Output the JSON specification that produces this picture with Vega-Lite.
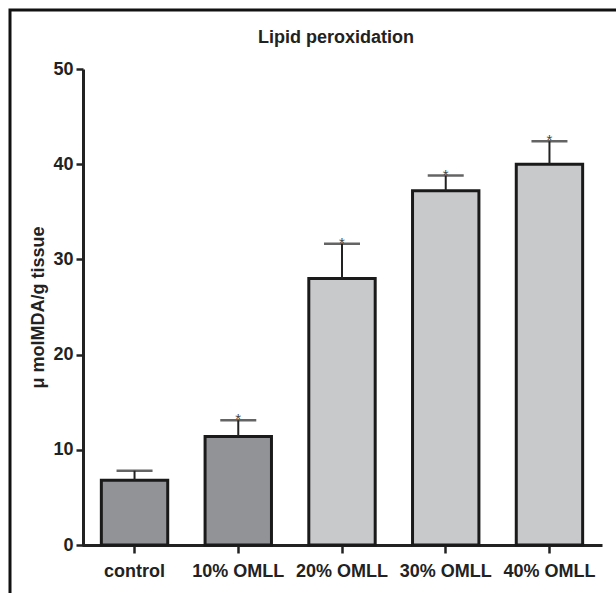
{
  "$schema": "https://vega.github.io/schema/vega-lite/v6.json",
  "width": 620,
  "height": 600,
  "autosize": {"type": "none"},
  "padding": {"left": 10, "top": 10, "right": -14, "bottom": -17},
  "background": "white",
  "config": {
    "view": {"stroke": "#111", "strokeWidth": 3, "fill": "white"},
    "font": "Liberation Sans"
  },
  "title": {
    "text": "Lipid peroxidation",
    "fontSize": 18,
    "fontWeight": "bold",
    "font": "Liberation Sans",
    "color": "#222",
    "anchor": "middle",
    "baseline": "alphabetic",
    "offset": -51,
    "dx": 16
  },
  "data": {
    "values": [
      {"group": "control", "value": 6.8, "upper": 7.8, "sig": ""},
      {"group": "10% OMLL", "value": 11.4, "upper": 13.1, "sig": "*"},
      {"group": "20% OMLL", "value": 28.0, "upper": 31.65, "sig": "*"},
      {"group": "30% OMLL", "value": 37.2, "upper": 38.8, "sig": "*"},
      {"group": "40% OMLL", "value": 40.0, "upper": 42.4, "sig": "*"}
    ]
  },
  "encoding": {
    "x": {
      "field": "group",
      "type": "nominal",
      "sort": null,
      "scale": {"range": [72, 592], "paddingInner": 0.36, "paddingOuter": 0.1865},
      "axis": {
        "orient": "bottom",
        "offset": -65,
        "title": null,
        "labelAngle": 0,
        "labelFont": "Liberation Sans",
        "labelFontSize": 18,
        "labelFontWeight": "bold",
        "labelColor": "#222",
        "labelPadding": 9,
        "labelOverlap": false,
        "labelBound": false,
        "tickSize": 8,
        "tickWidth": 2.5,
        "tickColor": "#222",
        "domainColor": "#222",
        "domainWidth": 3
      }
    }
  },
  "layer": [
    {
      "mark": {"type": "bar", "stroke": "#1a1a1a", "strokeWidth": 3},
      "encoding": {
        "y": {
          "field": "value",
          "type": "quantitative",
          "scale": {"domain": [0, 50], "range": [535, 59], "nice": false},
          "axis": {
            "values": [0, 10, 20, 30, 40, 50],
            "offset": -73,
            "grid": false,
            "title": "μ moIMDA/g tissue",
            "titleFont": "Liberation Sans",
            "titleFontSize": 18,
            "titleFontWeight": "bold",
            "titleColor": "#222",
            "titlePadding": 5,
            "labelFont": "Liberation Sans",
            "labelFontSize": 18,
            "labelFontWeight": "bold",
            "labelColor": "#222",
            "labelPadding": 3,
            "tickSize": 7,
            "tickWidth": 2.5,
            "tickColor": "#222",
            "domainColor": "#222",
            "domainWidth": 3
          }
        },
        "color": {
          "field": "group",
          "type": "nominal",
          "sort": null,
          "scale": {"range": ["#929397", "#929397", "#c8c9cb", "#c8c9cb", "#c8c9cb"]},
          "legend": null
        }
      }
    },
    {
      "mark": {"type": "rule", "color": "#222", "strokeWidth": 2},
      "encoding": {
        "y": {"field": "value", "type": "quantitative"},
        "y2": {"field": "upper"}
      }
    },
    {
      "mark": {"type": "tick", "color": "#222", "size": 36, "thickness": 2.5},
      "encoding": {
        "y": {"field": "upper", "type": "quantitative"}
      }
    },
    {
      "transform": [{"filter": "datum.sig != ''"}],
      "mark": {"type": "text", "color": "#444", "fontSize": 15, "baseline": "alphabetic", "dy": 4, "font": "Liberation Sans"},
      "encoding": {
        "y": {"field": "upper", "type": "quantitative"},
        "text": {"field": "sig"}
      }
    }
  ]
}
